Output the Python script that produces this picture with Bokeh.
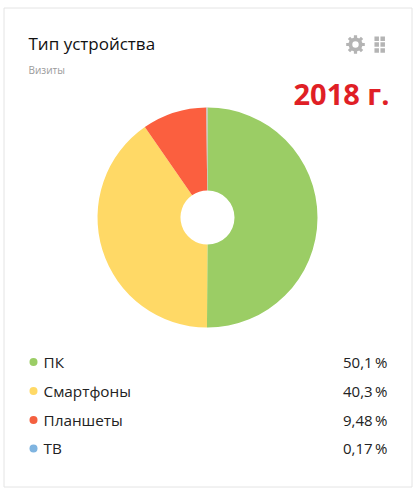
import math
from bokeh.plotting import figure
from bokeh.models import Range1d
from bokeh.core.properties import value
from bokeh.embed import file_html
from bokeh.resources import INLINE

categories = ["ПК", "Смартфоны", "Планшеты", "ТВ"]
shares = [50.1, 40.3, 9.48, 0.17]
share_labels = ["50,1\u2009%", "40,3\u2009%", "9,48\u2009%", "0,17\u2009%"]
pie_colors = ["#9bcd65", "#ffd966", "#fb5f3f", "#b9b9b9"]
dot_colors = ["#9bcd65", "#ffd966", "#f4603f", "#7fb4e0"]

W, H = 416, 494
p = figure(width=W, height=H, x_range=Range1d(0, W), y_range=Range1d(H, 0),
           output_backend="svg", toolbar_location=None, min_border=0,
           x_axis_location=None, y_axis_location=None)
p.styles = {"position": "absolute", "left": "0px", "top": "0px"}
p.grid.visible = False
p.outline_line_color = None
p.background_fill_color = "white"
p.border_fill_color = "white"

# card
p.quad(left=[3.5], right=[411.5], top=[7.5], bottom=[486.5], fill_color="white",
       line_color="#e4e4e4", line_width=1)

# pie
cx, cy, R, r0 = 207, 217, 110, 27
total = sum(shares)
cum = 0.0
starts, ends = [], []
for s in shares:
    a0 = math.pi / 2 - 2 * math.pi * cum / total
    cum += s
    a1 = math.pi / 2 - 2 * math.pi * cum / total
    starts.append(a1)
    ends.append(a0)
p.annular_wedge(x=[cx] * 4, y=[cy] * 4, inner_radius=r0, outer_radius=R,
                start_angle=starts, end_angle=ends, direction="anticlock",
                fill_color=pie_colors, line_color=None)

FONT = value("Open Sans")
p.text(x=[28], y=[42.5], text=["Тип устройства"], text_font=FONT, text_font_size="17px",
       text_color="#111111", text_baseline="middle")
p.text(x=[28], y=[69], text=["Визиты"], text_font=FONT, text_font_size="10px",
       text_color="#9a9a9a", text_baseline="middle")
p.text(x=[389], y=[93], text=["2018 г."], text_font=value("Open Sans"), text_font_style="bold",
       text_font_size="29px", text_color="#e01f26", text_baseline="middle", text_align="right")

# legend
ys = [361.5, 390.5, 419.5, 448]
text_ys = [y - 0.5 for y in ys]
p.scatter(x=[33] * 4, y=ys, size=8, marker="circle", fill_color=dot_colors, line_color=None)
p.text(x=[43] * 4, y=text_ys, text=categories, text_font=FONT, text_font_size="15.3px",
       text_color="#222222", text_baseline="middle")
p.text(x=[387] * 4, y=text_ys, text=share_labels, text_font=FONT, text_font_size="15px",
       text_color="#222222", text_baseline="middle", text_align="right")

# gear icon
gx, gy = 355, 44
p.annulus(x=[gx], y=[gy], inner_radius=3.2, outer_radius=7, fill_color="#b4b4b4", line_color=None)
ang = [i * math.pi / 4 for i in range(8)]
p.rect(x=[gx + 7.5 * math.cos(a) for a in ang], y=[gy + 7.5 * math.sin(a) for a in ang],
       width=3.6, height=3.2, angle=[-a for a in ang], fill_color="#b4b4b4", line_color=None)

# drag-handle icon
hx = [376.2, 382.2] * 3
hy = [38.3, 38.3, 44, 44, 50, 50]
p.rect(x=hx, y=hy, width=4.5, height=4.5, fill_color="#b4b4b4", line_color=None)

open("out.html", "w").write(file_html(p, INLINE))
